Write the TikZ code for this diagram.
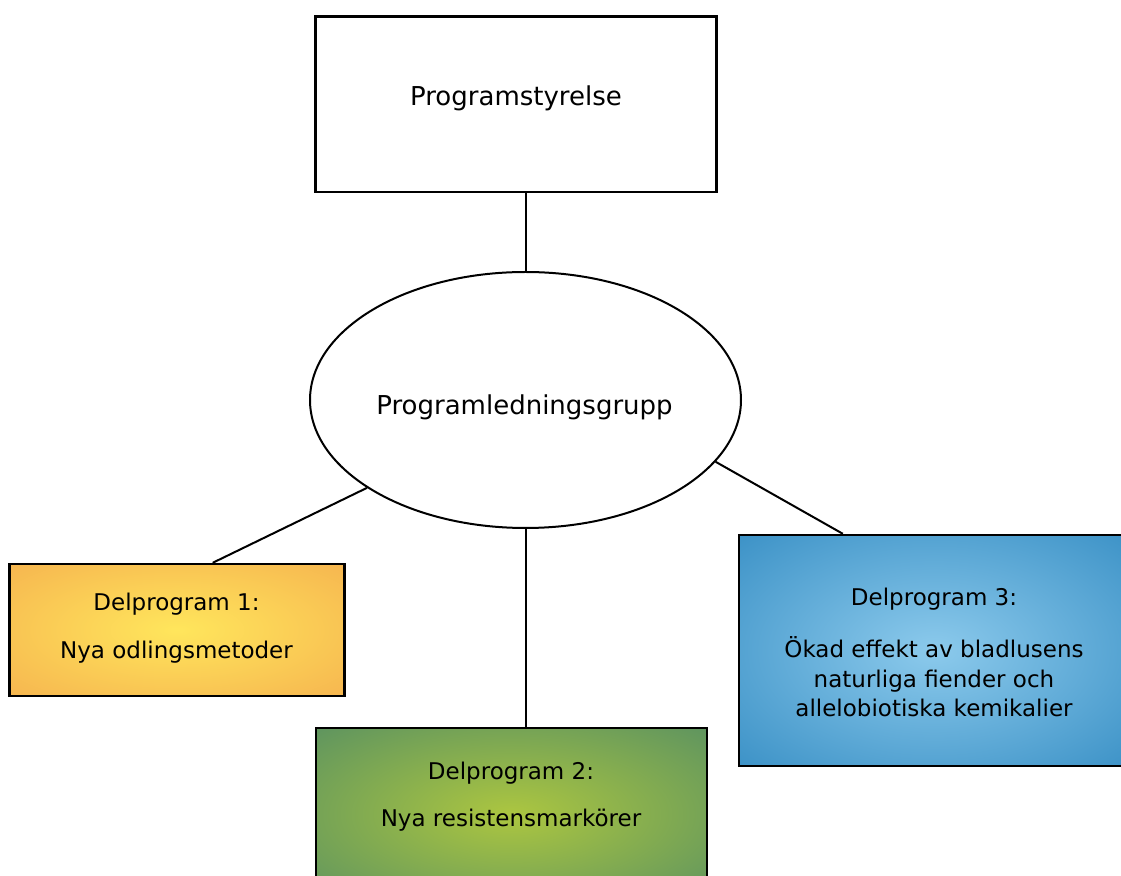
\documentclass[tikz,border=0pt]{standalone}
\usepackage{fontspec}
\setmainfont{DejaVu Sans}
\usepackage{xcolor}
\usetikzlibrary{shapes.geometric}

\definecolor{orangeout}{RGB}{245,176,78}
\definecolor{orangein}{RGB}{255,230,92}
\definecolor{greenout}{RGB}{72,134,104}
\definecolor{greenin}{RGB}{172,198,64}
\definecolor{blueout}{RGB}{46,136,192}
\definecolor{bluein}{RGB}{140,202,236}

\pgfdeclareradialshading{delone}{\pgfpoint{0bp}{0bp}}{color(0bp)=(orangein); color(40bp)=(orangeout); color(100bp)=(orangeout)}
\pgfdeclareradialshading{deltwo}{\pgfpoint{0bp}{0bp}}{color(0bp)=(greenin); color(46bp)=(greenout); color(100bp)=(greenout)}
\pgfdeclareradialshading{delthree}{\pgfpoint{0bp}{0bp}}{color(0bp)=(bluein); color(42bp)=(blueout); color(100bp)=(blueout)}

\tikzset{
  box/.style={draw, line width=1.2pt, rectangle, inner sep=0pt},
  link/.style={line width=1pt},
  headtext/.style={anchor=base, font=\fontsize{13}{15}\selectfont},
  subtext/.style={anchor=base, font=\fontsize{11.5}{14}\selectfont},
}

\begin{document}
\begin{tikzpicture}[x=0.5pt, y=-0.5pt]
    \clip (0,0) rectangle (1121,876);

    \node[box, fill=white, minimum width=200.5pt, minimum height=87.8pt] (styr) at (516,104.5) {};
    \node[draw, ellipse, line width=1pt, fill=white, inner sep=0pt,
          minimum width=215.5pt, minimum height=128pt] (ledning) at (525.5,400) {};

    \node[box, shading=delone, minimum width=167.5pt, minimum height=66pt] (del1) at (177,630) {};
    \node[box, shading=deltwo, minimum width=195.5pt, minimum height=86pt] (del2) at (511.5,814) {};
    \node[box, shading=delthree, minimum width=195pt, minimum height=115.5pt] (del3) at (934,650.5) {};

    % connectors
    \draw[link] (styr.south -| ledning.north) -- (ledning.north);
    \draw[link] (ledning.-151) -- (del1.62);
    \draw[link] (ledning.south) -- (ledning.south |- del2.north);
    \draw[link] (ledning.-18) -- (del3.128);

    % texts
    \node[headtext] (styrtxt) at (516,106) {Programstyrelse};
    \node[headtext] (ledtxt) at (524.5,415) {Programledningsgrupp};

    \node[subtext] (del1a) at (176.5,610.7) {Delprogram 1:};
    \node[subtext] (del1b) at (176.5,658.3) {Nya odlingsmetoder};

    \node[subtext] (del2a) at (511,780) {Delprogram 2:};
    \node[subtext] (del2b) at (511,827) {Nya resistensmarkörer};

    \node[subtext] (del3a) at (934,606) {Delprogram 3:};
    \node[subtext] (del3b) at (934,658) {Ökad effekt av bladlusens};
    \node[subtext] (del3c) at (934,687.7) {naturliga fiender och};
    \node[subtext] (del3d) at (934,716.7) {allelobiotiska kemikalier};

\end{tikzpicture}
\end{document}
